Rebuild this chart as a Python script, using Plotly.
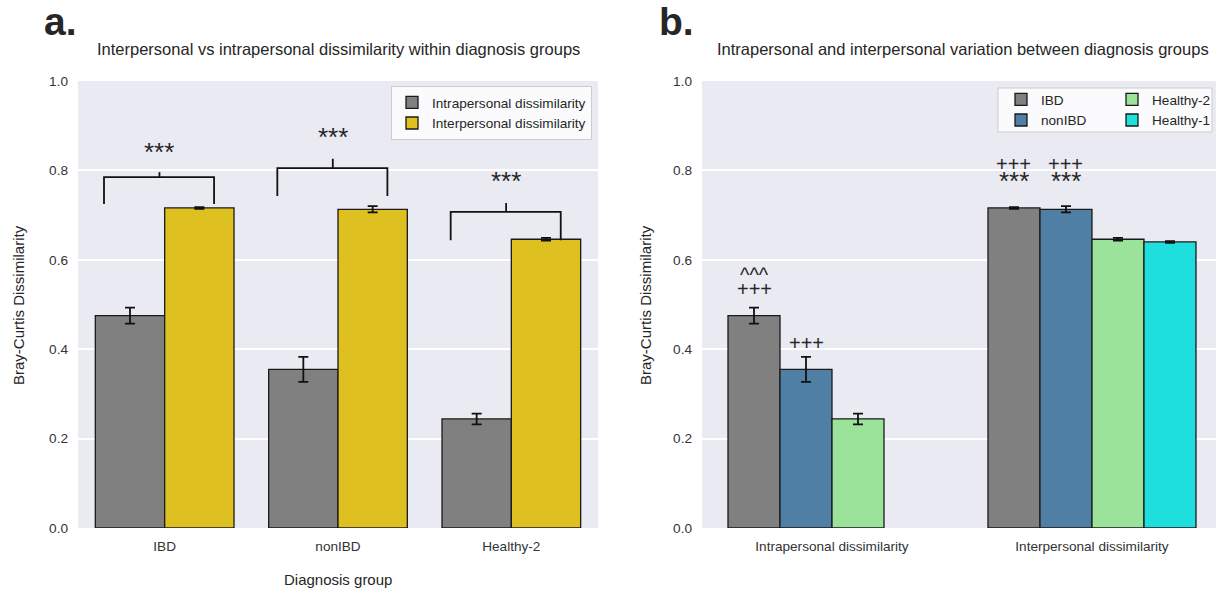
import plotly.graph_objects as go

# ---------------- data ----------------
groups_a = ["IBD", "nonIBD", "Healthy-2"]
intra_mean = [0.475, 0.355, 0.244]
intra_err = [0.018, 0.028, 0.012]
inter_mean = [0.716, 0.713, 0.646]
inter_err = [0.002, 0.007, 0.003]

cats_b = ["Intrapersonal dissimilarity", "Interpersonal dissimilarity"]
series_b = ["IBD", "nonIBD", "Healthy-2", "Healthy-1"]
vals_b = {
    "IBD": [0.475, 0.716],
    "nonIBD": [0.355, 0.713],
    "Healthy-2": [0.244, 0.646],
    "Healthy-1": [None, 0.640],
}
errs_b = {
    "IBD": [0.018, 0.002],
    "nonIBD": [0.028, 0.007],
    "Healthy-2": [0.012, 0.003],
    "Healthy-1": [0.0, 0.002],
}

# significance brackets (panel a), in axis units relative to category index
bracket_left_off = [-0.35, -0.35, -0.35]
bracket_right_off = [0.285, 0.285, 0.285]
bracket_tick_off = [-0.03, -0.03, -0.03]
bracket_top = [0.785, 0.805, 0.707]
bracket_leg_bottom = [0.725, 0.743, 0.644]
bracket_tick_top = [0.796, 0.826, 0.727]
star_y = [0.846, 0.879, 0.781]
star_text = ["***", "***", "***"]

# panel b markers: (category index + offset, y, text)
marks_b_x = [-0.3, -0.3, -0.1, 0.7, 0.7, 0.9, 0.9]
marks_b_y = [0.577, 0.535, 0.414, 0.814, 0.781, 0.814, 0.781]
marks_b_t = ["^^^", "+++", "+++", "+++", "***", "+++", "***"]

# ---------------- styling ----------------
FONT = "Liberation Sans, Arial, sans-serif"
TXT = "#262626"
BG = "#EAEAF2"
col_a = {"intra": "#808080", "inter": "#DEC120"}
col_b = {"IBD": "#808080", "nonIBD": "#507FA5", "Healthy-2": "#9BE29B", "Healthy-1": "#1FDEDE"}
EDGE = dict(color="#1a1a1a", width=1.3)
ERR = dict(type="data", color="#111", thickness=1.8, width=5)

W, H = 1216, 590
ax_a = [78 / W, 598 / W]
ax_b = [702 / W, 1.0]
ydom = [1 - 528 / H, 1 - 81 / H]

fig = go.Figure()

fig.add_trace(go.Bar(
    x=groups_a, y=intra_mean, name="Intrapersonal dissimilarity",
    marker=dict(color=col_a["intra"], line=EDGE),
    error_y=dict(**ERR, array=intra_err),
    xaxis="x", yaxis="y", legend="legend",
))
fig.add_trace(go.Bar(
    x=groups_a, y=inter_mean, name="Interpersonal dissimilarity",
    marker=dict(color=col_a["inter"], line=EDGE),
    error_y=dict(**ERR, array=inter_err),
    xaxis="x", yaxis="y", legend="legend",
))

ranks = {"IBD": 1, "nonIBD": 2, "Healthy-2": 1, "Healthy-1": 2}
leg_of = {"IBD": "legend2", "nonIBD": "legend2", "Healthy-2": "legend3", "Healthy-1": "legend3"}
for s in series_b:
    fig.add_trace(go.Bar(
        x=cats_b, y=vals_b[s], name=s,
        marker=dict(color=col_b[s], line=EDGE),
        error_y=dict(**ERR, array=errs_b[s]),
        xaxis="x2", yaxis="y2", legend=leg_of[s], legendrank=ranks[s],
    ))

shapes = []
annos = []
line_style = dict(color="#111", width=1.8)
for i in range(len(groups_a)):
    xl = i + bracket_left_off[i]
    xr = i + bracket_right_off[i]
    xt = i + bracket_tick_off[i]
    path = (f"M {xl},{bracket_leg_bottom[i]} L {xl},{bracket_top[i]} "
            f"L {xr},{bracket_top[i]} L {xr},{bracket_leg_bottom[i]}")
    shapes.append(dict(type="path", xref="x", yref="y", path=path, line=line_style))
    shapes.append(dict(type="line", xref="x", yref="y", x0=xt, x1=xt,
                       y0=bracket_top[i], y1=bracket_tick_top[i], line=line_style))
    annos.append(dict(x=xt, y=star_y[i], xref="x", yref="y", text=star_text[i],
                      showarrow=False, font=dict(family=FONT, size=26, color=TXT),
                      xanchor="center", yanchor="middle", yshift=-2))

mark_size = {"***": 26, "+++": 20, "^^^": 20}
mark_shift = {"***": -2, "+++": 0, "^^^": -5}
for x, y, t in zip(marks_b_x, marks_b_y, marks_b_t):
    annos.append(dict(x=x, y=y, xref="x2", yref="y2", text=t, showarrow=False,
                      font=dict(family=FONT, size=mark_size[t], color=TXT),
                      xanchor="center", yanchor="middle", yshift=mark_shift[t]))

# legend box for panel b
shapes.append(dict(type="rect", xref="paper", yref="paper",
                   x0=998 / W, x1=1212 / W, y0=1 - 132 / H, y1=1 - 88 / H,
                   fillcolor="rgba(255,255,255,0.8)", line=dict(color="#cccccc", width=1),
                   layer="above"))

# titles and labels
annos += [
    dict(x=338 / W, y=1 - 49 / H, xref="paper", yref="paper",
         text="Interpersonal vs intrapersonal dissimilarity within diagnosis groups",
         showarrow=False, font=dict(family=FONT, size=16.5, color=TXT),
         xanchor="center", yanchor="middle"),
    dict(x=963 / W, y=1 - 49 / H, xref="paper", yref="paper",
         text="Intrapersonal and interpersonal variation between diagnosis groups",
         showarrow=False, font=dict(family=FONT, size=16.5, color=TXT),
         xanchor="center", yanchor="middle"),
    dict(x=60 / W, y=1 - 22 / H, xref="paper", yref="paper", text="<b>a.</b>",
         showarrow=False, font=dict(family=FONT, size=39, color=TXT),
         xanchor="center", yanchor="middle"),
    dict(x=676 / W, y=1 - 22 / H, xref="paper", yref="paper", text="<b>b.</b>",
         showarrow=False, font=dict(family=FONT, size=39, color=TXT),
         xanchor="center", yanchor="middle"),
    dict(x=338 / W, y=1 - 579 / H, xref="paper", yref="paper", text="Diagnosis group",
         showarrow=False, font=dict(family=FONT, size=15, color=TXT),
         xanchor="center", yanchor="middle"),
    dict(x=18 / W, y=1 - 305 / H, xref="paper", yref="paper", text="Bray-Curtis Dissimilarity",
         showarrow=False, textangle=-90, font=dict(family=FONT, size=15, color=TXT),
         xanchor="center", yanchor="middle"),
    dict(x=645 / W, y=1 - 305 / H, xref="paper", yref="paper", text="Bray-Curtis Dissimilarity",
         showarrow=False, textangle=-90, font=dict(family=FONT, size=15, color=TXT),
         xanchor="center", yanchor="middle"),
]

yaxis_common = dict(
    range=[0, 1], tickvals=[0, 0.2, 0.4, 0.6, 0.8, 1.0], tickformat=".1f",
    showgrid=True, gridcolor="white", gridwidth=1.5, zeroline=False, showline=False,
    ticks="", ticklabelstandoff=9, tickfont=dict(family=FONT, size=13.6, color="#333"),
    domain=ydom, fixedrange=True, automargin=False,
)
xaxis_common = dict(
    showgrid=False, zeroline=False, showline=False, ticks="", ticklabelstandoff=8,
    tickfont=dict(family=FONT, size=13.6, color="#333"), type="category", automargin=False,
)

legend_font = dict(family=FONT, size=13.6, color=TXT)
fig.update_layout(
    width=W, height=H,
    margin=dict(l=0, r=0, t=0, b=0, autoexpand=False),
    paper_bgcolor="white", plot_bgcolor=BG,
    barmode="group", bargap=0.2, bargroupgap=0,
    font=dict(family=FONT, color=TXT),
    xaxis=dict(**xaxis_common, domain=ax_a, anchor="y", range=[-0.5, 2.5]),
    yaxis=dict(**yaxis_common, anchor="x"),
    xaxis2=dict(**xaxis_common, domain=ax_b, anchor="y2", range=[-0.5, 1.477]),
    yaxis2=dict(**yaxis_common, anchor="x2"),
    shapes=shapes,
    annotations=annos,
    legend=dict(x=592 / W, y=1 - 86 / H, xanchor="right", yanchor="top",
                bgcolor="rgba(255,255,255,0.8)", bordercolor="#cccccc", borderwidth=1,
                font=legend_font, tracegroupgap=0),
    legend2=dict(x=1001 / W, y=1 - 84 / H, xanchor="left", yanchor="top",
                 bgcolor="rgba(0,0,0,0)", font=legend_font, traceorder="normal"),
    legend3=dict(x=1112 / W, y=1 - 84 / H, xanchor="left", yanchor="top",
                 bgcolor="rgba(0,0,0,0)", font=legend_font, traceorder="normal"),
    showlegend=True,
)

fig.write_html("out.html")
